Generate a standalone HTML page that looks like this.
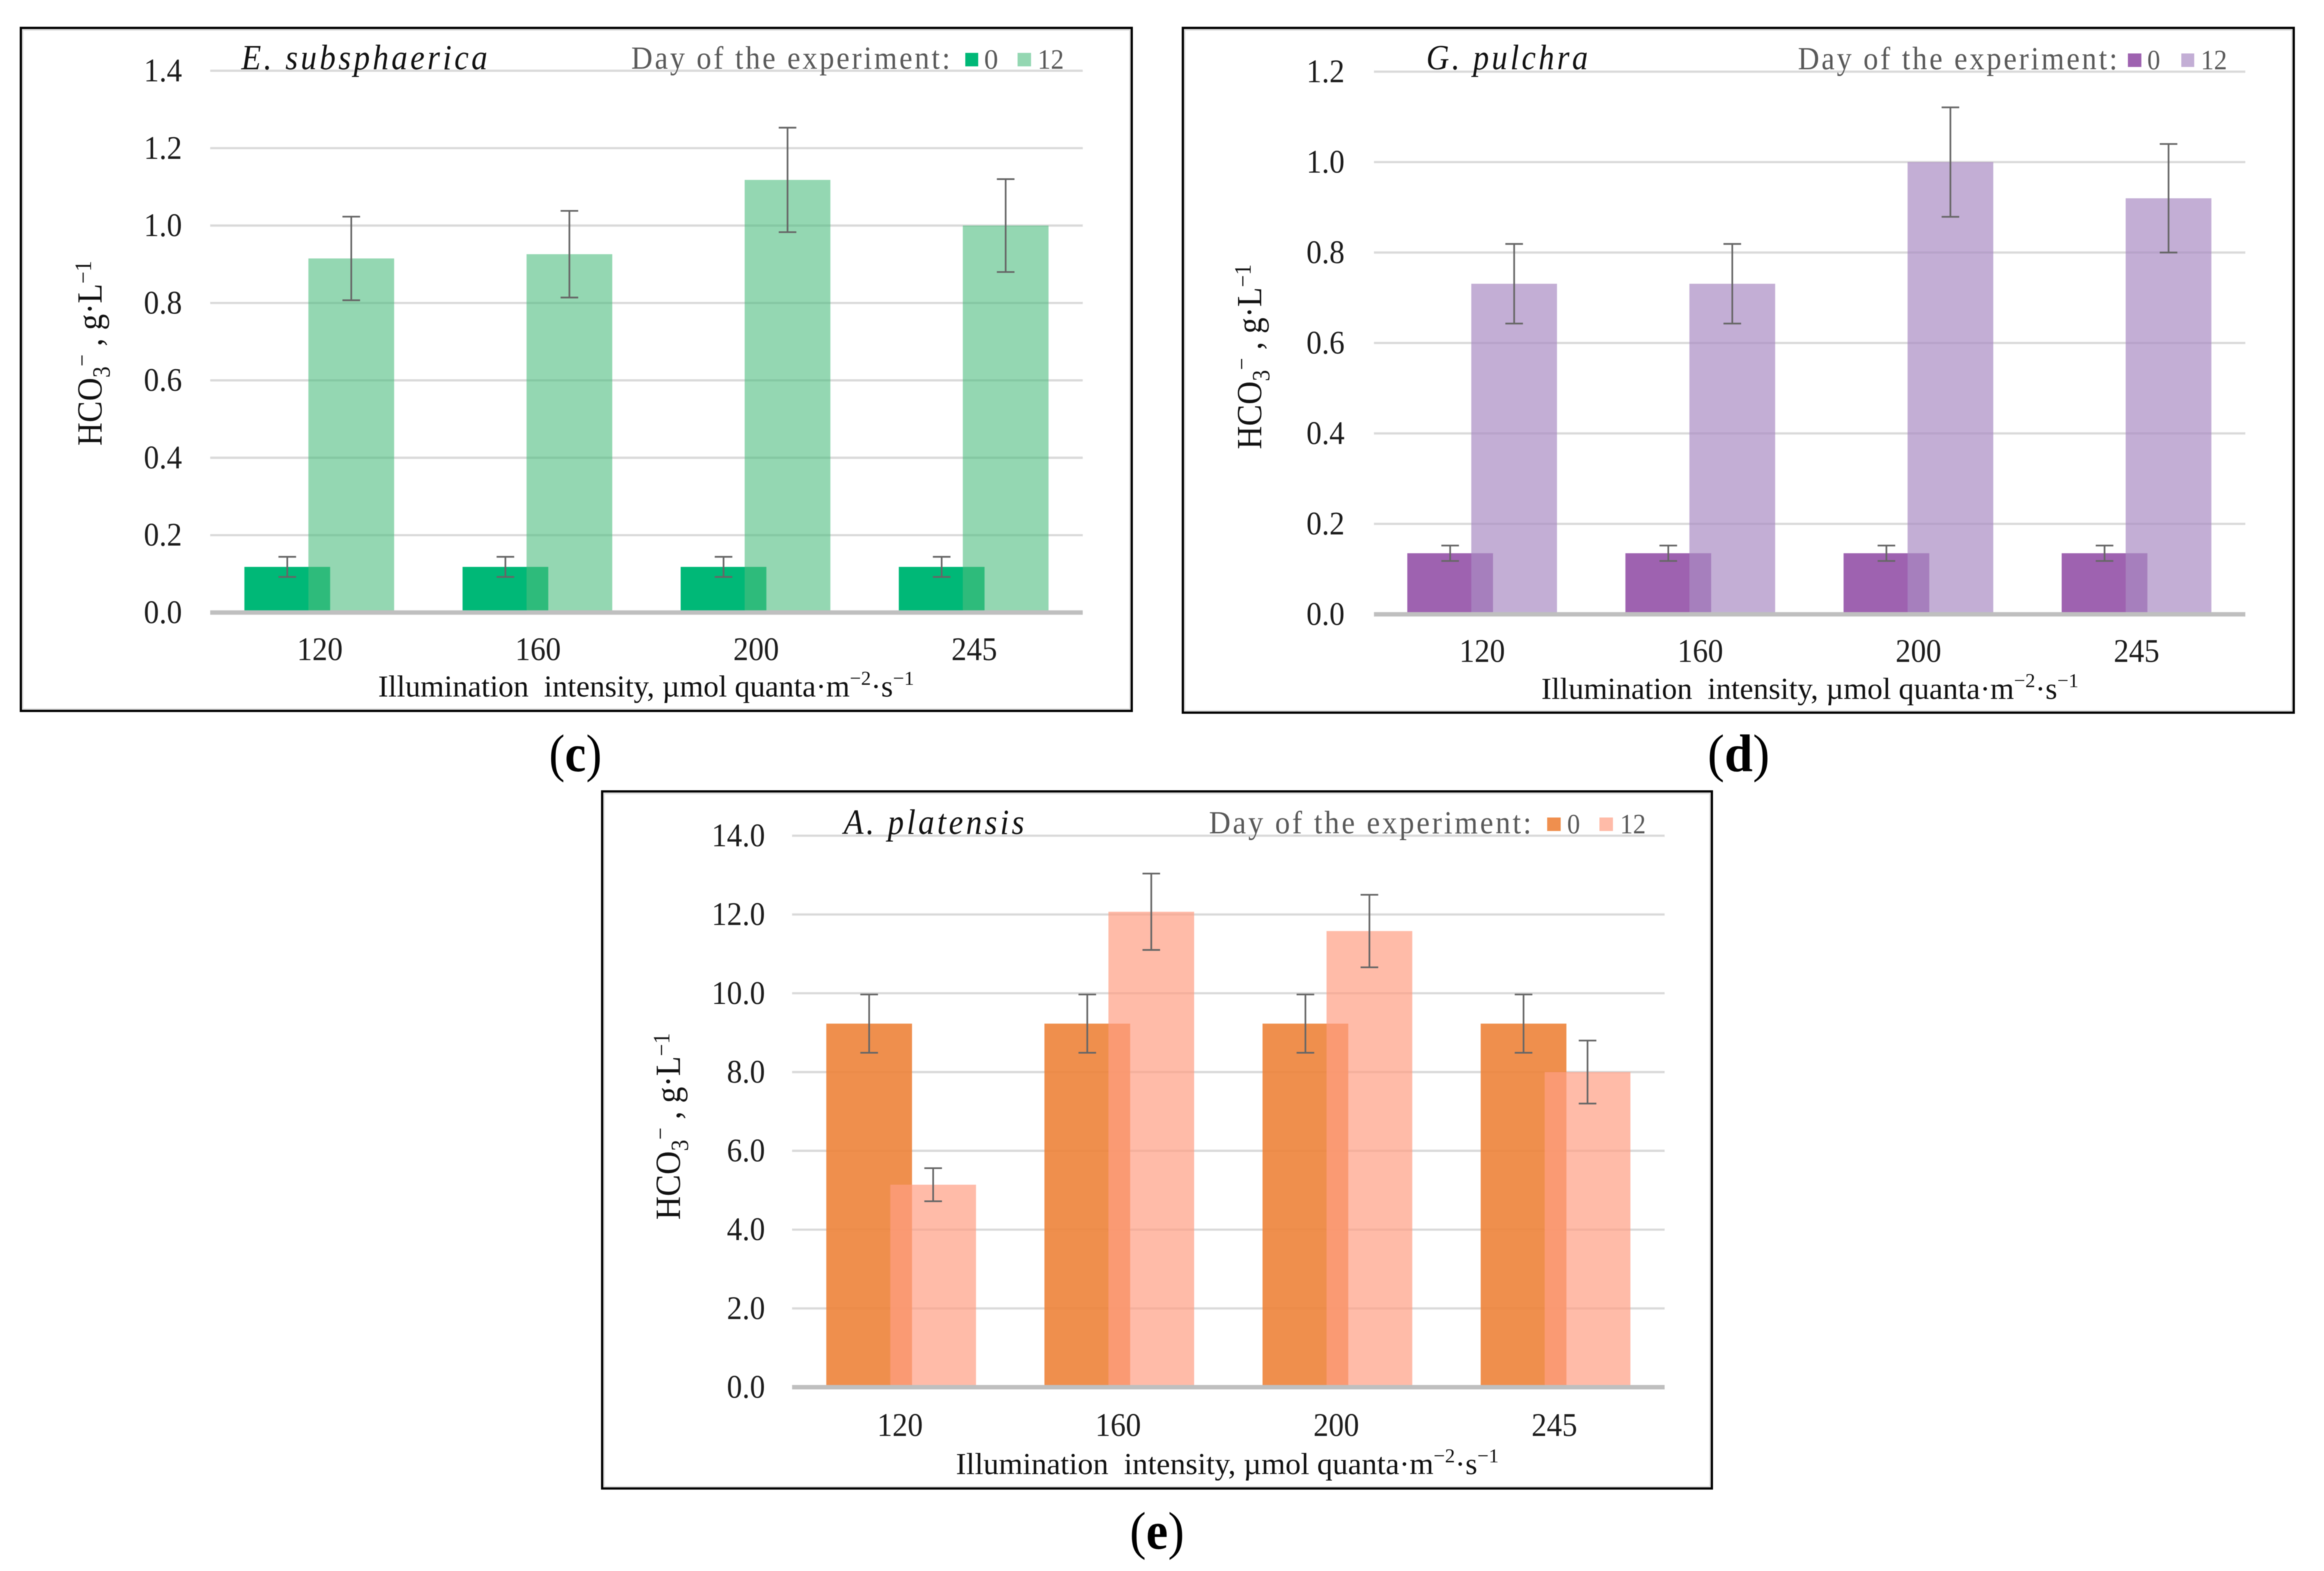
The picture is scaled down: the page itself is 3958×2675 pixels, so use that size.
<!DOCTYPE html>
<html lang="en">
<head>
<meta charset="utf-8">
<title>Bicarbonate concentration by illumination intensity</title>
<style>
html,body{margin:0;padding:0;background:#fff;width:3958px;height:2675px;overflow:hidden}
svg{display:block;filter:blur(0.8px)}
text{font-family:"Liberation Serif",serif;white-space:pre}
</style>
</head>
<body>
<svg id="figure" xmlns="http://www.w3.org/2000/svg" width="3958" height="2675" viewBox="0 0 3958 2675">
<rect x="0" y="0" width="3958" height="2675" fill="#fff"/>
</svg>
<script>
const categories = ['120', '160', '200', '245'];

const cTickLabels = ['0.0', '0.2', '0.4', '0.6', '0.8', '1.0', '1.2', '1.4'];
const cDay0 = [0.118, 0.118, 0.118, 0.118];
const cDay12 = [0.915, 0.926, 1.118, 1.0];
const cErr0 = [0.026, 0.026, 0.026, 0.026];
const cErr12 = [0.108, 0.112, 0.135, 0.12];

const dTickLabels = ['0.0', '0.2', '0.4', '0.6', '0.8', '1.0', '1.2'];
const dDay0 = [0.135, 0.135, 0.135, 0.135];
const dDay12 = [0.731, 0.731, 1.0, 0.92];
const dErr0 = [0.017, 0.017, 0.017, 0.017];
const dErr12 = [0.088, 0.088, 0.121, 0.12];

const eTickLabels = ['0.0', '2.0', '4.0', '6.0', '8.0', '10.0', '12.0', '14.0'];
const eDay0 = [9.23, 9.23, 9.23, 9.23];
const eDay12 = [5.14, 12.07, 11.58, 8.0];
const eErr0 = [0.74, 0.74, 0.74, 0.74];
const eErr12 = [0.42, 0.97, 0.92, 0.8];

const NS = 'http://www.w3.org/2000/svg';
const figure = document.getElementById('figure');

function make(parent, tag, attrs) {
  const el = document.createElementNS(NS, tag);
  for (const k in attrs) el.setAttribute(k, attrs[k]);
  parent.appendChild(el);
  return el;
}
function runs(el, parts) {
  for (const p of parts) {
    const t = document.createElementNS(NS, 'tspan');
    t.textContent = p.t;
    if (p.fs) t.setAttribute('font-size', p.fs);
    if (p.fw) t.setAttribute('font-weight', p.fw);
    if (p.dy) t.setAttribute('dy', p.dy);
    el.appendChild(t);
  }
}
function fitH(el, x, y, width) {
  const w = el.getComputedTextLength();
  el.setAttribute('transform', 'translate(' + x + ' ' + y + ') scale(' + (width / w) + ' 1)');
}
function fitV(el, x, yBottom, height) {
  const w = el.getComputedTextLength();
  el.setAttribute('transform', 'translate(' + x + ' ' + yBottom + ') rotate(-90) scale(' + (height / w) + ' 1)');
}

function drawPanel(p) {
  const g = make(figure, 'g', {});
  
  

  const yMax = Number(p.ticks[p.ticks.length - 1]);
  const yScale = v => p.y0 - (v / yMax) * (p.y0 - p.yTop);
  const band = p.band;
  const xCenter = i => p.bandLeft + (i + 0.5) * band;
  const barW = band * 0.393;
  const off = band * 0.1467;

  const outerShade = make(g, 'rect', {x: p.bx + 4, y: p.by + 4.5, width: p.bw - 8, height: p.bh - 8.5, fill: '#fff', stroke: '#dedede', 'stroke-width': 3.5});
  
  
  const frame = make(g, 'rect', {x: p.bx + 1.5, y: p.by + 1.5, width: p.bw - 3, height: p.bh - 3, fill: 'none', stroke: '#000', 'stroke-width': 3.8});
  
  

  p.ticks.forEach((label, i) => {
    const v = Number(label);
    if (i > 0) {
      const grid = make(g, 'line', {x1: p.gridLeft, x2: p.gridRight, y1: yScale(v), y2: yScale(v), stroke: '#dadada', 'stroke-width': 3.8});
      
      
    }
    const tick = make(g, 'text', {'font-size': 56, fill: '#1c1c1c', 'text-anchor': 'end', transform: 'translate(' + p.tickRight + ' ' + (yScale(v) + 18) + ') scale(.93 1)'});
    tick.textContent = label;
    
    
  });

  categories.forEach((c, i) => {
    const b0 = make(g, 'rect', {x: xCenter(i) - off - barW / 2, y: yScale(p.day0[i]), width: barW, height: p.y0 - yScale(p.day0[i]), fill: p.color0, 'fill-opacity': p.alpha0});
    
    
  });
  categories.forEach((c, i) => {
    const b12 = make(g, 'rect', {x: xCenter(i) + off - barW / 2, y: yScale(p.day12[i]), width: barW, height: p.y0 - yScale(p.day12[i]), fill: p.color12, 'fill-opacity': p.alpha12});
    
    
  });

  const axis = make(g, 'line', {x1: p.gridLeft, x2: p.gridRight, y1: p.y0, y2: p.y0, stroke: '#bfbfbf', 'stroke-width': 7.5});
  
  

  function errorBar(cx, v, e, name) {
    const eg = make(g, 'g', {stroke: '#666', 'stroke-width': 2.9, fill: 'none'});
    
    
    const top = yScale(v + e), bot = yScale(v - e);
    make(eg, 'line', {x1: cx, x2: cx, y1: top, y2: bot});
    make(eg, 'line', {x1: cx - 15, x2: cx + 15, y1: top, y2: top});
    make(eg, 'line', {x1: cx - 15, x2: cx + 15, y1: bot, y2: bot});
  }
  categories.forEach((c, i) => {
    errorBar(xCenter(i) - off, p.day0[i], p.err0[i], 'error-bar-day0-' + c);
    errorBar(xCenter(i) + off, p.day12[i], p.err12[i], 'error-bar-day12-' + c);
    const xt = make(g, 'text', {'font-size': 56, fill: '#1c1c1c', 'text-anchor': 'middle', transform: 'translate(' + (xCenter(i) + p.xTickShift) + ' ' + p.xTickBase + ') scale(.93 1)'});
    xt.textContent = c;
    
    
  });

  const title = make(g, 'text', {'font-size': 60, 'font-style': 'italic', fill: '#111', 'letter-spacing': 5});
  title.textContent = p.title;
  
  
  fitH(title, p.titleX, p.titleBase, p.titleW);

  const legend = make(g, 'g', {});
  
  
  const legendLabel = make(legend, 'text', {'font-size': 55, fill: '#595959', 'letter-spacing': 4});
  legendLabel.textContent = 'Day of the experiment:';
  
  
  fitH(legendLabel, p.lg[0], p.lgBase, p.lg[1] - p.lg[0]);

  const sw0 = make(legend, 'rect', {x: p.lg[2], y: p.lgBase - 27, width: p.lg[3] - p.lg[2], height: 23, fill: p.swatch0});
  
  
  const tx0 = make(legend, 'text', {'font-size': 48, fill: '#595959'});
  tx0.textContent = '0';
  
  
  fitH(tx0, p.lg[4] - 1, p.lgBase, p.lg[5] - p.lg[4] + 3);

  const sw12 = make(legend, 'rect', {x: p.lg[6], y: p.lgBase - 27, width: p.lg[7] - p.lg[6], height: 23, fill: p.swatch12});
  
  
  const tx12 = make(legend, 'text', {'font-size': 48, fill: '#595959'});
  tx12.textContent = '12';
  
  
  fitH(tx12, p.lg[8] - 3, p.lgBase, p.lg[9] - p.lg[8] + 5);

  const xTitle = make(g, 'text', {'font-size': 52, fill: '#111'});
  runs(xTitle, [
    {t: 'Illumination\u00a0\u00a0intensity, \u00b5mol quanta\u00b7m'},
    {t: '\u22122', fs: 34, dy: -20},
    {t: '\u00b7s', dy: 20},
    {t: '\u22121', fs: 34, dy: -20}
  ]);
  
  
  fitH(xTitle, p.xTitleX, p.xTitleBase, p.xTitleW);

  const yTitle = make(g, 'text', {'font-size': 60, fill: '#111'});
  runs(yTitle, [
    {t: 'HCO'},
    {t: '3', fs: 42, dy: 14},
    {t: '\u2212', fs: 40, dy: -34},
    {t: ' , g\u00b7L', dy: 20},
    {t: '\u22121', fs: 40, dy: -18}
  ]);
  
  
  fitV(yTitle, p.yTitleX, p.yTitleBottom, p.yTitleH);

  const cap = make(figure, 'text', {'font-size': 90, fill: '#000'});
  runs(cap, [{t: '('}, {t: p.captionLetter, fw: 'bold'}, {t: ')'}]);
  
  
  fitH(cap, p.capX, p.capY, p.capW);
}

drawPanel({
  id: 'c', title: 'E. subsphaerica', captionLetter: 'c', ticks: cTickLabels,
  day0: cDay0, day12: cDay12, err0: cErr0, err12: cErr12,
  bx: 34, by: 46, bw: 1895, bh: 1166,
  gridLeft: 358, gridRight: 1844, bandLeft: 358, band: 371.5, y0: 1043, yTop: 120.5,
  tickRight: 310, xTickShift: 1, xTickBase: 1124,
  color0: '#00b877', alpha0: 1, color12: '#4dbc7f', alpha12: 0.6, swatch0: '#00b877', swatch12: '#94d7b2',
  titleX: 411, titleBase: 118, titleW: 424,
  lg: [1075, 1622, 1644, 1666, 1677, 1698, 1733, 1756, 1770, 1810], lgBase: 117,
  xTitleX: 644, xTitleBase: 1186, xTitleW: 913,
  yTitleX: 173, yTitleBottom: 759, yTitleH: 315,
  capX: 935, capY: 1313, capW: 90
});

drawPanel({
  id: 'd', title: 'G. pulchra', captionLetter: 'd', ticks: dTickLabels,
  day0: dDay0, day12: dDay12, err0: dErr0, err12: dErr12,
  bx: 2013, by: 46, bw: 1895, bh: 1169,
  gridLeft: 2340, gridRight: 3824, bandLeft: 2338.5, band: 371.5, y0: 1046, yTop: 122,
  tickRight: 2290, xTickShift: 0, xTickBase: 1127,
  color0: '#9e62b0', alpha0: 1, color12: '#a98bc3', alpha12: 0.7, swatch0: '#9e62b0', swatch12: '#c3aed5',
  titleX: 2429, titleBase: 118, titleW: 280,
  lg: [3062, 3610, 3624, 3647, 3658, 3677, 3715, 3737, 3751, 3791], lgBase: 118,
  xTitleX: 2625, xTitleBase: 1190, xTitleW: 915,
  yTitleX: 2148, yTitleBottom: 765, yTitleH: 315,
  capX: 2908, capY: 1313, capW: 106
});

drawPanel({
  id: 'e', title: 'A. platensis', captionLetter: 'e', ticks: eTickLabels,
  day0: eDay0, day12: eDay12, err0: eErr0, err12: eErr12,
  bx: 1024, by: 1346, bw: 1893, bh: 1190,
  gridLeft: 1349, gridRight: 2835, bandLeft: 1349, band: 371.5, y0: 2362, yTop: 1423,
  tickRight: 1303, xTickShift: -2, xTickBase: 2445,
  color0: '#ed833a', alpha0: 0.9, color12: '#ff9e83', alpha12: 0.7, swatch0: '#ef8f4e', swatch12: '#ffbba8',
  titleX: 1437, titleBase: 1420, titleW: 312,
  lg: [2059, 2612, 2635, 2658, 2670, 2689, 2724, 2747, 2762, 2801], lgBase: 1419,
  xTitleX: 1628, xTitleBase: 2510, xTitleW: 925,
  yTitleX: 1158, yTitleBottom: 2077, yTitleH: 318,
  capX: 1924, capY: 2637, capW: 93
});
</script>
</body>
</html>
